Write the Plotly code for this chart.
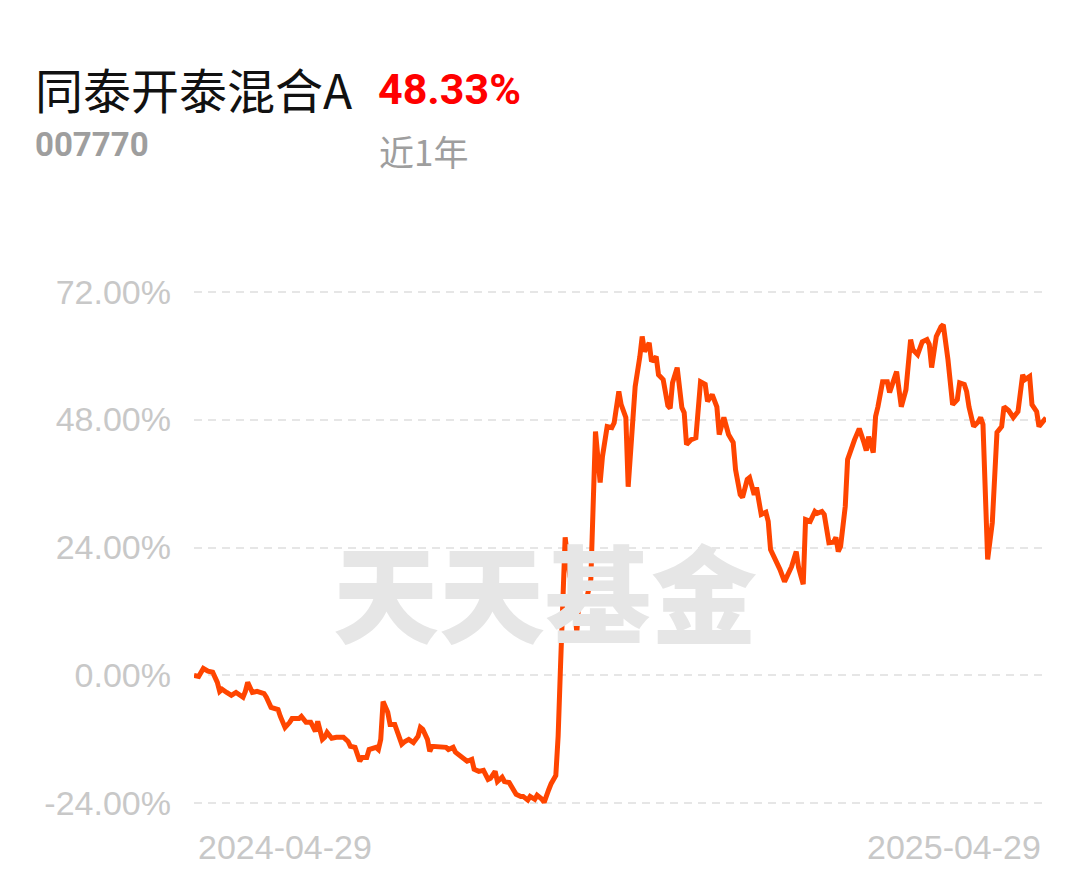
import plotly.graph_objects as go

fund_name = "同泰开泰混合A"
fund_code = "007770"
period_label = "近1年"
period_return = "48.33%"
watermark = "天天基金"

dates = [
    "2024-04-29", "2024-05-01", "2024-05-03", "2024-05-05", "2024-05-07", "2024-05-09", "2024-05-10",
    "2024-05-11", "2024-05-13", "2024-05-15", "2024-05-17", "2024-05-20", "2024-05-21", "2024-05-22",
    "2024-05-24", "2024-05-26", "2024-05-29", "2024-05-30", "2024-06-01", "2024-06-04", "2024-06-05",
    "2024-06-07", "2024-06-09", "2024-06-10", "2024-06-13", "2024-06-14", "2024-06-16", "2024-06-18",
    "2024-06-19", "2024-06-20", "2024-06-21", "2024-06-23", "2024-06-24", "2024-06-25", "2024-06-27",
    "2024-06-29", "2024-07-02", "2024-07-04", "2024-07-05", "2024-07-07", "2024-07-09", "2024-07-10",
    "2024-07-12", "2024-07-13", "2024-07-16", "2024-07-17", "2024-07-18", "2024-07-19", "2024-07-21",
    "2024-07-22", "2024-07-24", "2024-07-25", "2024-07-27", "2024-07-28", "2024-07-30", "2024-08-01",
    "2024-08-03", "2024-08-04", "2024-08-05", "2024-08-07", "2024-08-08", "2024-08-09", "2024-08-12",
    "2024-08-13", "2024-08-15", "2024-08-16", "2024-08-18", "2024-08-19", "2024-08-21", "2024-08-22",
    "2024-08-24", "2024-08-26", "2024-08-27", "2024-08-29", "2024-08-31", "2024-09-02", "2024-09-03",
    "2024-09-05", "2024-09-06", "2024-09-08", "2024-09-09", "2024-09-11", "2024-09-12", "2024-09-14",
    "2024-09-16", "2024-09-17", "2024-09-19", "2024-09-20", "2024-09-22", "2024-09-23", "2024-09-25",
    "2024-09-26", "2024-09-28", "2024-09-29", "2024-10-01", "2024-10-02", "2024-10-03", "2024-10-04",
    "2024-10-05", "2024-10-07", "2024-10-08", "2024-10-10", "2024-10-11", "2024-10-13", "2024-10-14",
    "2024-10-16", "2024-10-17", "2024-10-18", "2024-10-20", "2024-10-21", "2024-10-23", "2024-10-25",
    "2024-10-26", "2024-10-28", "2024-10-29", "2024-10-31", "2024-11-01", "2024-11-02", "2024-11-04",
    "2024-11-06", "2024-11-07", "2024-11-08", "2024-11-10", "2024-11-11", "2024-11-13", "2024-11-14",
    "2024-11-16", "2024-11-18", "2024-11-19", "2024-11-20", "2024-11-22", "2024-11-24", "2024-11-25",
    "2024-11-26", "2024-11-28", "2024-11-30", "2024-12-02", "2024-12-04", "2024-12-05", "2024-12-07",
    "2024-12-09", "2024-12-10", "2024-12-12", "2024-12-14", "2024-12-16", "2024-12-17", "2024-12-19",
    "2024-12-20", "2024-12-22", "2024-12-23", "2024-12-25", "2024-12-26", "2024-12-28", "2024-12-30",
    "2024-12-31", "2025-01-01", "2025-01-02", "2025-01-04", "2025-01-05", "2025-01-07", "2025-01-09",
    "2025-01-10", "2025-01-12", "2025-01-13", "2025-01-15", "2025-01-16", "2025-01-18", "2025-01-20",
    "2025-01-21", "2025-01-23", "2025-01-24", "2025-01-26", "2025-01-28", "2025-01-29", "2025-01-30",
    "2025-01-31", "2025-02-02", "2025-02-03", "2025-02-06", "2025-02-08", "2025-02-10", "2025-02-11",
    "2025-02-12", "2025-02-14", "2025-02-15", "2025-02-16", "2025-02-18", "2025-02-20", "2025-02-21",
    "2025-02-23", "2025-02-24", "2025-02-26", "2025-02-28", "2025-03-02", "2025-03-03", "2025-03-05",
    "2025-03-07", "2025-03-09", "2025-03-10", "2025-03-11", "2025-03-13", "2025-03-15", "2025-03-16",
    "2025-03-18", "2025-03-20", "2025-03-22", "2025-03-23", "2025-03-25", "2025-03-26", "2025-03-27",
    "2025-03-29", "2025-03-31", "2025-04-01", "2025-04-02", "2025-04-04", "2025-04-06", "2025-04-07",
    "2025-04-08", "2025-04-10", "2025-04-11", "2025-04-13", "2025-04-15", "2025-04-17", "2025-04-18",
    "2025-04-19", "2025-04-20", "2025-04-22", "2025-04-23", "2025-04-25", "2025-04-26", "2025-04-29",
]

returns_pct = [
    0.0, -0.2, 1.3, 0.8, 0.6, -1.3, -3.0,
    -2.6, -3.2, -3.75, -3.2, -4.1, -3.0, -1.3,
    -3.2, -3.0, -3.4, -4.1, -6.0, -6.4, -7.7,
    -9.75, -8.8, -8.1, -8.1, -7.7, -8.8, -8.8,
    -9.6, -10.5, -8.6, -12.0, -11.6, -10.7, -11.8,
    -11.6, -11.6, -12.4, -13.3, -13.5, -16.1, -15.4,
    -15.4, -13.9, -13.5, -13.9, -12.0, -4.9, -6.9,
    -9.2, -9.2, -10.7, -12.9, -12.5, -12.0, -12.6,
    -11.4, -9.75, -10.1, -12.0, -14.25, -13.3, -13.3,
    -13.5, -13.5, -13.9, -13.5, -14.4, -15.2, -15.4,
    -16.1, -15.75, -17.6, -18.0, -17.8, -19.5, -19.3,
    -18.0, -19.9, -19.1, -19.9, -20.1, -20.8, -22.3,
    -22.7, -22.7, -23.4, -22.7, -23.25, -22.5, -23.2,
    -23.8, -21.4, -20.3, -18.8, -11.4, 1.5, 15.0,
    25.9, 18.6, 17.4, 8.1, 14.8, 13.7, 13.9,
    18.0, 29.0, 45.75, 36.2, 41.1, 46.7, 46.5,
    47.4, 53.3, 50.8, 48.4, 35.4, 42.5, 54.2,
    59.8, 63.6, 60.75, 62.4, 58.9, 59.8, 56.4,
    55.5, 50.6, 50.1, 54.9, 57.75, 50.25, 49.3,
    43.3, 44.25, 44.6, 55.1, 54.6, 51.4, 52.7,
    50.4, 45.2, 48.4, 45.2, 43.7, 38.6, 33.9,
    33.4, 36.75, 37.1, 33.9, 35.25, 30.2, 30.6,
    28.9, 23.6, 22.7, 20.4, 19.9, 17.6, 19.3,
    20.4, 23.25, 20.25, 17.1, 29.25, 28.9, 30.75,
    30.4, 30.75, 30.2, 24.9, 25.0, 25.9, 23.25,
    24.2, 31.7, 40.5, 44.25, 46.3, 43.7, 42.2,
    44.8, 41.8, 48.6, 50.4, 55.1, 55.1, 53.1,
    55.5, 57.0, 50.4, 53.6, 63.0, 61.1, 60.2,
    62.6, 63.0, 62.1, 57.75, 63.6, 65.4, 65.8,
    59.25, 50.8, 51.75, 54.9, 54.6, 53.25, 50.4,
    46.7, 47.6, 48.4, 47.1, 21.75, 28.7, 39.9,
    45.6, 46.7, 50.4, 49.7, 48.4, 49.5, 53.1,
    56.4, 55.5, 56.1, 50.8, 49.5, 46.7, 48.33,
]

y_tick_values = [72, 48, 24, 0, -24]
y_tick_labels = ["72.00%", "48.00%", "24.00%", "0.00%", "-24.00%"]
x_labels = ["2024-04-29", "2025-04-29"]

LINE = "#ff4500"
GRID = "#e6e6e6"
AXIS_TXT = "#c8c8c8"
GRAY = "#9e9e9e"

fig = go.Figure()
fig.add_trace(go.Scatter(
    x=dates, y=returns_pct, mode="lines",
    line=dict(color=LINE, width=5, shape="linear"),
    hoverinfo="skip", showlegend=False,
))

fig.update_layout(
    width=1089, height=881,
    margin=dict(l=186, r=51, t=273, b=75),
    paper_bgcolor="white", plot_bgcolor="white",
    showlegend=False,
    xaxis=dict(
        type="date", range=[x_labels[0], x_labels[1]],
        showgrid=False, zeroline=False, showline=False, showticklabels=False, ticks="",
    ),
    yaxis=dict(
        range=[-26, 74], tickvals=y_tick_values, ticktext=y_tick_labels,
        showgrid=True, gridcolor=GRID, gridwidth=2, griddash="8px,6px",
        zeroline=False, showline=False, ticks="",
        ticklabelstandoff=22,
        tickfont=dict(family="Liberation Sans, Arial, sans-serif", size=34, color=AXIS_TXT),
    ),
    annotations=[
        dict(text=watermark, xref="paper", yref="paper", x=0.412, y=0.4213,
             xanchor="center", yanchor="middle", showarrow=False,
             font=dict(family="Noto Sans CJK SC", size=106, color="#e6e6e6", weight=900)),
        dict(text=fund_name, xref="paper", yref="paper", x=-0.189, y=1.3627,
             xanchor="left", yanchor="middle", showarrow=False,
             font=dict(family="Noto Sans CJK SC", size=48, color="#111111")),
        dict(text=period_return, xref="paper", yref="paper", x=0.2136, y=1.3608,
             xanchor="left", yanchor="middle", showarrow=False,
             font=dict(family="Roboto", size=43, color="#ff0000", weight="bold")),
        dict(text=fund_code, xref="paper", yref="paper", x=-0.189, y=1.2558,
             xanchor="left", yanchor="middle", showarrow=False,
             font=dict(family="Roboto", size=33, color=GRAY, weight="bold")),
        dict(text=period_label, xref="paper", yref="paper", x=0.2148, y=1.2446,
             xanchor="left", yanchor="middle", showarrow=False,
             font=dict(family="Noto Sans CJK SC", size=35, color=GRAY)),
        dict(text=x_labels[0], xref="paper", yref="paper", x=0.0023, y=-0.0624,
             xanchor="left", yanchor="middle", showarrow=False,
             font=dict(family="Liberation Sans, Arial, sans-serif", size=34, color=AXIS_TXT)),
        dict(text=x_labels[1], xref="paper", yref="paper", x=0.9965, y=-0.0624,
             xanchor="right", yanchor="middle", showarrow=False,
             font=dict(family="Liberation Sans, Arial, sans-serif", size=34, color=AXIS_TXT)),
    ],
)

fig.write_html("out.html")
